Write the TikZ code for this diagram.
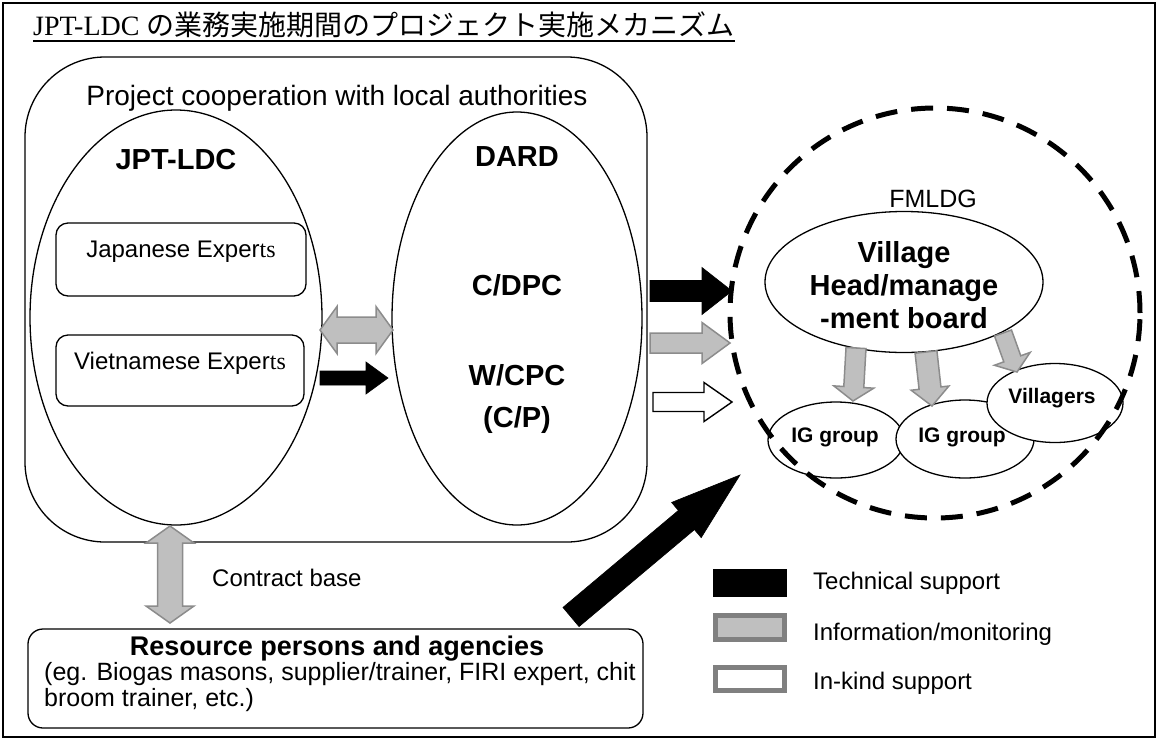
\documentclass[tikz,border=0pt]{standalone}
\usepackage{fontspec}
\setmainfont{Liberation Serif}
\newfontfamily\sansf{Liberation Sans}
\newfontfamily\cjk{Noto Sans CJK JP}
\usetikzlibrary{calc,shapes.geometric}

\definecolor{infofill}{HTML}{BFBFBF}
\definecolor{infoedge}{HTML}{8C8C8C}
\definecolor{legendedge}{HTML}{808080}

% block arrow: style, tail, tip, half shaft, half head, head length
\newcommand\blockarrow[6]{%
  \coordinate (baH) at ($(#3)!#6!(#2)$);
  \draw[#1] ($(#2)!#4!90:(#3)$) -- ($(baH)!#4!90:(#3)$) -- ($(baH)!#5!90:(#3)$) -- (#3)
    -- ($(baH)!#5!-90:(#3)$) -- ($(baH)!#4!-90:(#3)$) -- ($(#2)!#4!-90:(#3)$) -- cycle;}
% two-headed block arrow: style, end A, end B, half shaft, half head, head length
\newcommand\dblblockarrow[6]{%
  \coordinate (baA) at ($(#2)!#6!(#3)$);
  \coordinate (baB) at ($(#3)!#6!(#2)$);
  \draw[#1] (#2) -- ($(baA)!#5!90:(#3)$) -- ($(baA)!#4!90:(#3)$) -- ($(baB)!#4!90:(#3)$)
    -- ($(baB)!#5!90:(#3)$) -- (#3) -- ($(baB)!#5!-90:(#3)$) -- ($(baB)!#4!-90:(#3)$)
    -- ($(baA)!#4!-90:(#3)$) -- ($(baA)!#5!-90:(#3)$) -- cycle;}

\begin{document}
\begin{tikzpicture}[x=1pt, y=-1pt,
  outline/.style={draw, line width=1.3pt},
  oval/.style={outline, ellipse, fill=white, inner sep=0pt},
  rbox/.style={outline, rectangle, fill=white, inner sep=0pt},
  tech/.style={fill=black, draw=black, line width=0.6pt},
  info/.style={fill=infofill, draw=infoedge, line width=1.5pt},
  kind/.style={fill=white, draw=black, line width=1.4pt},
  lbl/.style={font=\sansf\fontsize{24}{28}\selectfont, inner sep=0pt},
  reslbl/.style={font=\sansf\fontsize{25}{29}\selectfont, inner sep=0pt},
  boldlbl/.style={font=\sansf\bfseries\fontsize{29}{33}\selectfont, inner sep=0pt, align=center},
  grouplbl/.style={font=\sansf\bfseries\fontsize{21}{25}\selectfont, inner sep=0pt},
  legendbox/.style={rectangle, inner sep=0pt, minimum width=69pt, line width=5pt, draw=legendedge}]
\useasboundingbox (0,0) rectangle (1160,740);

% outer frame
\draw[line width=1.3pt] (3,3) rectangle (1155,737);

% title
\node[anchor=base west, inner sep=0pt, font=\fontsize{28}{32}\selectfont] (title) at (33,35)
  {JPT-LDC {\cjk の業務実施期間のプロジェクト実施メカニズム}};
\draw[line width=1.5pt] ([yshift=-6pt]title.base west) -- ([yshift=-6pt]title.base east);

% cooperation block
\node[outline, rectangle, rounded corners=80pt, minimum width=622pt, minimum height=485pt] (coop) at (336,299.5) {};
\node[font=\sansf\fontsize{28}{32}\selectfont, inner sep=0pt] (cooplbl) at (337,98) {Project cooperation with local authorities};

\node[oval, minimum width=292pt, minimum height=415pt] (jpt) at (176,317.5) {};
\node[boldlbl] (jptlbl) at (176,160) {JPT-LDC};
\node[rbox, rounded corners=12pt, minimum width=250pt, minimum height=73pt] (jpx) at (181,259.5) {};
\node[lbl] (jpxlbl) at (181,252) {Japanese Exper{\rmfamily ts}};
\node[rbox, rounded corners=12pt, minimum width=248pt, minimum height=71pt] (vnx) at (180,370.5) {};
\node[lbl] (vnxlbl) at (180,363) {Vietnamese Exper{\rmfamily ts}};

\node[oval, minimum width=250pt, minimum height=413pt] (dard) at (517,318.5) {};
\node[boldlbl] (dardlbl) at (517,157) {DARD};
\node[boldlbl] (dpclbl) at (517,285) {C/DPC};
\node[boldlbl] (cpclbl) at (517,375) {W/CPC};
\node[boldlbl] (cplbl) at (517,420) {(C/P)};

% arrows between the two ovals
\coordinate (ex1) at (320,330);
\coordinate (ex2) at (393,330);
\dblblockarrow{info}{ex1}{ex2}{13pt}{23.5pt}{17pt}
\coordinate (vn1) at (320,378);
\coordinate (vn2) at (388,378);
\blockarrow{tech}{vn1}{vn2}{7pt}{16pt}{22pt}

% support arrows towards the village
\coordinate (ts1) at (650,291);
\coordinate (ts2) at (732,291);
\blockarrow{tech}{ts1}{ts2}{10.5pt}{23.5pt}{30pt}
\coordinate (im1) at (650,343);
\coordinate (im2) at (730,343);
\blockarrow{info}{im1}{im2}{10pt}{20.5pt}{28pt}
\coordinate (ik1) at (653,402);
\coordinate (ik2) at (732,402);
\blockarrow{kind}{ik1}{ik2}{9.5pt}{19.5pt}{28pt}

% village side
\node[font=\sansf\fontsize{25}{29}\selectfont, inner sep=0pt] (fmldg) at (933,199) {FMLDG};
\node[oval, minimum width=278pt, minimum height=141pt] (village) at (904,282) {};
\node[boldlbl] (villagelbl) at (904,285) {Village\\Head/manage\\-ment board};
\node[oval, minimum width=136pt, minimum height=76pt] (ig1) at (836,440) {};
\node[oval, minimum width=138pt, minimum height=78pt] (ig2) at (965,439) {};
\node[oval, minimum width=136pt, minimum height=79pt] (vil) at (1055,403) {};
\node[grouplbl] (ig1lbl) at (835,437) {IG group};
\node[grouplbl] (ig2lbl) at (962,437) {IG group};
\node[grouplbl] (villbl) at (1052,398) {Villagers};

\coordinate (va1) at (856,348);
\coordinate (va2) at (853,401);
\blockarrow{info}{va1}{va2}{10pt}{20pt}{14pt}
\coordinate (vb1) at (926,352);
\coordinate (vb2) at (932,406);
\blockarrow{info}{vb1}{vb2}{11pt}{19pt}{18pt}
\coordinate (vc1) at (1003,333);
\coordinate (vc2) at (1017,372);
\blockarrow{info}{vc1}{vc2}{9pt}{19pt}{14pt}

\node[circle, draw, line width=5pt, dash pattern=on 22pt off 14pt, minimum size=410pt, inner sep=0pt] (fml) at (935,313) {};

% resource persons
\node[rbox, rounded corners=15pt, minimum width=615pt, minimum height=99pt] (res) at (335.5,678.5) {};
\node[font=\sansf\bfseries\fontsize{27}{31}\selectfont, anchor=base, inner sep=0pt] (resl1) at (337,655) {Resource persons and agencies};
\node[reslbl, anchor=base west] (resl2) at (44,680) {(eg. Biogas masons, supplier/trainer, FIRI expert, chit};
\node[reslbl, anchor=base west] (resl3) at (44,706) {broom trainer, etc.)};

\coordinate (cb1) at (170,526);
\coordinate (cb2) at (170,623);
\dblblockarrow{info}{cb1}{cb2}{12.5pt}{24pt}{17pt}
\node[lbl, anchor=west] (cblbl) at (212,578) {Contract base};

\coordinate (rs1) at (571,617);
\coordinate (rs2) at (740,475);
\blockarrow{tech}{rs1}{rs2}{12.5pt}{23pt}{70pt}

% legend
\node[rectangle, fill=black, minimum width=74pt, minimum height=28pt, inner sep=0pt] (lgtech) at (750,583) {};
\node[legendbox, fill=infofill, minimum height=24pt] (lginfo) at (750,627.5) {};
\node[legendbox, fill=white, minimum height=23pt] (lgkind) at (750,679) {};
\node[lbl, anchor=west] (lgtechlbl) at (813,583) {Technical support};
\node[lbl, anchor=west] (lginfolbl) at (813,634) {Information/monitoring};
\node[lbl, anchor=west] (lgkindlbl) at (813,683) {In-kind support};
\end{tikzpicture}
\end{document}
